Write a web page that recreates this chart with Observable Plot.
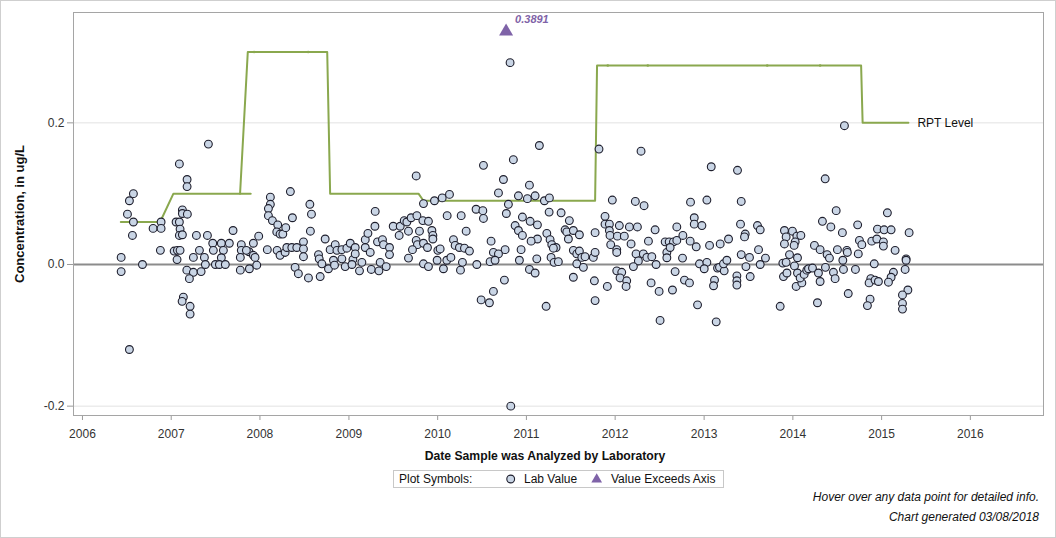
<!DOCTYPE html>
<html><head><meta charset="utf-8">
<script src="https://cdn.jsdelivr.net/npm/d3@7"></script>
<script src="https://cdn.jsdelivr.net/npm/@observablehq/plot@0.6"></script>
<style>
body{margin:0;background:#fff;font-family:"Liberation Sans",Arial,sans-serif;}
#chart{width:1056px;height:538px;position:relative;}
</style></head>
<body><div id="chart"></div>
<script>
// ---- Lab values (decimal year, concentration ug/L) ----
const labYears = [
2006.436,2006.436,2006.529,2006.507,2006.574,2006.563,2006.676,2006.796,2006.886,2006.886,2006.878,2006.574,2006.529,
2007.092,2007.179,2007.179,2007.126,2007.126,2007.182,2007.055,2007.092,2007.100,2007.092,2007.126,2007.033,2007.070,2007.100,2007.066,
2007.176,2007.250,2007.205,2007.337,2007.137,2007.123,2007.213,2007.213,2007.284,2007.408,2007.468,2007.475,2007.565,2007.655,2007.588,
2007.565,2007.250,2007.318,2007.374,2007.385,2007.498,2007.543,2007.610,2007.697,2007.790,2007.790,2007.779,2007.779,2007.881,2007.964,
2007.877,2007.926,2007.986,2007.926,2007.945,2007.847,2007.419,
2008.117,2008.117,2008.095,2008.095,2008.140,2008.200,2008.189,2008.226,2008.257,2008.290,2008.342,2008.365,2008.083,2008.193,2008.226,
2008.283,2008.302,2008.358,2008.414,2008.395,2008.432,
2008.561,2008.579,2008.567,2008.489,2008.489,2008.489,2008.545,2008.677,2008.733,2008.658,2008.666,2008.696,2008.770,2008.789,2008.846,
2008.865,2008.826,2008.838,2008.921,2008.921,2008.958,2008.977,2009.015,2009.071,2009.045,2009.071,2009.034,2009.119,2009.146,2009.184,
2009.184,2009.214,2009.296,2009.293,2009.322,2009.378,2009.390,2009.240,2009.252,2009.338,2009.352,2009.420,2009.457,2009.457,2009.499,
2009.566,2009.578,2009.623,2009.653,2009.701,2009.671,2009.766,2009.833,2009.896,2009.795,2009.758,2009.772,2009.840,2009.716,2009.671,
2009.885,2009.935,2009.946,2009.946,2009.840,2009.896,2009.994,2010.002,2010.028,2010.065,2010.103,2010.149,2009.758,2009.840,2009.964,
2010.051,2010.133,2010.107,2010.265,2010.321,2010.178,2010.197,2010.245,2010.302,2010.358,2010.279,2010.257,2010.441,2010.433,2010.824,
2010.816,
2010.516,2011.146,2010.853,2010.741,2010.685,2010.910,2011.011,2011.034,2011.098,2011.203,2011.259,2010.797,2010.774,2010.509,2010.516,
2010.955,2011.042,2011.124,2010.873,2010.910,2010.955,2011.256,2011.391,2011.484,2011.436,2011.455,2011.529,2011.597,2011.473,2011.230,
2011.267,2011.124,2011.053,2011.286,2011.334,2011.304,2010.602,2010.760,2010.940,2010.628,2010.685,2010.591,2010.647,2010.921,2011.117,
2011.278,2011.312,2011.360,2011.034,2011.098,2010.752,2010.628,2010.583,2010.490,2011.222,2011.529,2011.568,2011.597,2011.624,2011.661,
2011.568,2011.642,2011.529,2011.774,2011.754,2011.774,2011.766,2011.774,2011.818,2011.968,2011.886,2011.886,2011.935,2011.935,2011.942,
2012.047,2012.025,2012.103,2011.950,2012.018,2012.018,2011.912,2012.018,2012.074,2012.055,2012.130,2012.123,2012.160,2012.250,2012.179,
2012.227,2012.325,2012.291,2012.235,2012.261,2012.205,2012.317,2012.356,2012.412,2012.460,2012.374,2012.449,2012.404,2012.494,2012.505,
2012.644,2012.674,2012.562,2012.607,2012.655,2012.581,2012.581,2012.618,2012.693,2012.693,
2013.080,2013.376,2012.847,2013.031,2013.418,2012.889,2012.889,2012.975,2013.410,2013.463,2013.455,2013.601,2013.632,2012.761,2012.843,
2012.911,2013.061,2013.181,2013.275,2012.757,2012.948,2013.031,2013.001,2013.151,2013.173,2013.226,2013.218,2013.256,2012.779,2012.835,
2013.117,2013.106,2013.369,2013.369,2013.369,2013.519,2013.418,2013.471,2013.511,2013.632,2013.613,2013.691,2012.926,2013.136,2013.857,
2013.887,2013.924,2013.894,2013.933,2013.962,2014.018,2014.052,2014.052,2014.037,2014.101,2014.082,2014.127,2014.157,2014.176,2014.221,
2013.905,2013.924,2013.905,2013.995,2014.045,2014.090,2014.026,2014.014,2014.288,2014.307,2014.277,2014.243,2014.307,2014.333,2014.428,
2014.364,2014.488,2014.558,2014.386,2014.412,2014.367,2014.457,2014.476,2014.502,2014.608,2014.614,2014.563,2014.570,2014.705,2014.624,
2014.737,2014.730,2014.750,2014.777,2014.889,2014.946,2014.953,2014.917,2014.878,2014.859,2014.926,2014.964,2014.870,2014.840,2014.581,
2015.065,2015.028,2015.107,2015.310,2015.020,2015.020,2015.152,2015.276,2015.276,2015.265,2015.133,2015.107,2015.077,2015.296,2015.235,
2015.235,2015.235
];
const labValues = [
0.010,-0.010,-0.120,0.071,0.060,0.041,0.000,0.051,0.060,0.051,0.020,0.100,0.090,
0.142,0.120,0.110,0.077,0.072,0.071,0.060,0.060,0.050,0.041,0.042,0.019,0.020,0.020,0.007,
-0.008,-0.011,-0.020,-0.010,-0.046,-0.052,-0.059,-0.070,0.041,0.041,0.030,0.020,0.030,0.030,0.020,
0.0095,0.010,0.020,0.010,0.000,0.000,0.000,0.000,0.048,0.028,0.020,0.010,-0.008,-0.006,-0.001,
0.018,0.030,0.040,0.013,0.010,0.020,0.170,
0.095,0.085,0.079,0.069,0.062,0.056,0.046,0.043,0.043,0.052,0.103,0.066,0.021,0.020,0.013,
0.017,0.024,0.024,0.024,-0.004,-0.013,
0.085,0.071,0.047,0.032,0.022,0.011,-0.019,-0.017,0.036,0.014,0.008,0.001,-0.006,0.021,0.028,
0.020,0.006,-0.001,0.021,0.008,-0.003,0.023,0.030,0.024,0.007,0.015,0.000,-0.009,0.003,0.024,
0.035,0.044,0.075,0.054,0.032,0.035,0.028,0.017,-0.007,-0.009,0.003,-0.003,0.024,0.014,0.054,
0.041,0.054,0.062,0.060,0.066,0.047,0.069,0.062,0.061,0.047,0.034,0.028,0.030,0.021,0.009,
0.024,0.048,0.041,0.036,0.001,-0.003,0.006,0.020,0.022,-0.006,0.006,0.010,0.125,0.086,0.090,
0.094,0.099,0.069,0.069,0.047,0.035,0.027,0.024,0.023,0.019,0.003,-0.008,0.000,0.078,-0.200,
0.285,
0.140,0.168,0.148,0.120,0.101,0.097,0.093,0.112,0.097,0.090,0.094,0.085,0.072,0.076,0.065,
0.067,0.061,0.056,0.055,0.048,0.041,0.074,0.073,0.062,0.049,0.046,0.048,0.042,0.036,0.044,
0.035,0.036,0.033,0.028,0.024,0.023,0.033,0.021,0.021,0.017,0.015,0.004,0.006,0.006,0.008,
0.010,0.003,0.004,-0.007,-0.012,-0.022,-0.038,-0.054,-0.050,-0.059,0.020,0.015,0.019,0.010,0.011,
0.001,-0.004,-0.018,0.045,0.010,0.017,-0.023,-0.051,0.163,0.091,0.068,0.057,0.057,0.048,0.041,
0.055,0.040,0.040,0.028,0.021,0.017,-0.031,-0.009,-0.011,-0.019,-0.023,-0.031,0.053,0.053,0.029,
0.089,0.083,0.160,0.015,0.005,-0.003,0.015,0.010,0.011,0.000,0.033,0.049,-0.026,-0.038,-0.079,
-0.036,-0.010,0.032,0.032,0.032,0.017,0.0095,0.024,0.053,0.034,
0.138,0.133,0.088,0.091,0.089,0.066,0.057,0.055,0.057,0.043,0.039,0.055,0.049,0.041,0.033,
0.025,0.027,0.029,0.036,0.009,0.001,0.003,-0.006,-0.005,-0.004,-0.009,0.001,0.006,-0.022,-0.026,
-0.022,-0.030,-0.016,-0.023,-0.029,-0.017,0.014,-0.003,0.010,0.000,0.021,0.009,-0.057,-0.081,-0.059,
0.002,0.003,-0.017,-0.012,0.014,-0.002,0.0095,-0.012,-0.031,-0.026,-0.019,-0.014,-0.008,-0.006,-0.005,
0.048,0.039,0.029,0.047,0.040,0.041,0.032,0.027,-0.012,-0.024,-0.054,0.027,0.021,0.061,0.053,
0.121,0.076,0.045,0.014,0.009,-0.004,-0.011,-0.020,0.021,0.020,0.017,0.006,-0.007,-0.007,-0.041,
0.015,0.056,0.034,0.028,0.033,0.036,0.050,0.001,-0.020,-0.026,-0.022,-0.024,-0.049,-0.058,0.196,
0.073,0.049,0.049,0.045,0.032,0.026,0.020,0.008,0.006,-0.007,-0.011,-0.018,-0.025,-0.036,-0.043,
-0.055,-0.063
];

// ---- Value exceeding the axis ----
const exceedYears = [2010.771];
const exceedValues = [0.3891];
const axisCapValue = 0.329;   // where exceeding values are shown

// ---- RPT level line (two drawn pieces) ----
const rptSeg = ["a","a","a","a",
  "b","b","b","b","b","b","b","b","b","b","b","b","b","b","b","b","b","b"];
const rptYears = [2006.432,2006.875,2007.025,2007.896,
  2007.776,2007.863,2007.934,2008.542,2008.756,2008.789,2009.784,2009.840,2011.774,2011.796,
  2011.917,2012.367,2013.711,2014.307,2014.769,2014.786,2015.302,2015.302];
const rptValues = [0.06,0.06,0.10,0.10,
  0.10,0.30,0.30,0.30,0.30,0.10,0.10,0.09,0.09,0.281,
  0.281,0.281,0.281,0.281,0.281,0.20,0.20,0.20];
const rptMarkerYears = [2007.934,2008.542,2011.917,2012.367,2013.711,2014.307];
const rptMarkerValues = [0.30,0.30,0.281,0.281,0.281,0.281];

const yTicks = [-0.2, 0.0, 0.2];
const xDomainYears = [2005.899, 2016.822];
const yDomain = [-0.2132, 0.3558];

function toDate(d){
  const y = Math.floor(d);
  const s = Date.UTC(y,0,1), e = Date.UTC(y+1,0,1);
  return new Date(s + (d - y) * (e - s));
}
const lab = labYears.map((y,i)=>({date:toDate(y), value:labValues[i]}));
const exceed = exceedYears.map((y,i)=>({date:toDate(y), value:exceedValues[i], shown:Math.min(exceedValues[i], axisCapValue)}));
const rpt = rptYears.map((y,i)=>({date:toDate(y), value:rptValues[i], seg:rptSeg[i]}));
const rptLast = [rpt[rpt.length-1]];
const rptMarks = rptMarkerYears.map((y,i)=>({date:toDate(y), value:rptMarkerValues[i]}));

const font = '"Liberation Sans", Arial, sans-serif';
const purple = "#7f63a8";
const green = "#8aa84e";
const dotFill = "#c9d5e5";
const dotStroke = "#1e1e2c";

const plot = Plot.plot({
  width:1056, height:538,
  marginLeft:73, marginRight:13, marginTop:12, marginBottom:123,
  style:{fontFamily:font, fontSize:"12px", background:"#fff", color:"#333"},
  x:{type:"utc", domain:xDomainYears.map(toDate)},
  y:{domain:yDomain},
  marks:[
    Plot.gridY({ticks:[-0.2,0.2], stroke:"#e2e2e2", strokeOpacity:1}),
    Plot.ruleY([0], {stroke:"#8c8c8c", strokeWidth:2}),
    Plot.axisX({ticks:d3.utcYear.every(1), tickFormat:"%Y", tickSize:5, tickPadding:9, label:null, stroke:"#9a9a9a", fill:"#333", fontSize:12}),
    Plot.axisY({ticks:yTicks, tickFormat:d=>d.toFixed(1), tickSize:6, tickPadding:3, label:null, stroke:"#9a9a9a", fill:"#333", fontSize:12}),
    Plot.line(rpt, {x:"date", y:"value", z:"seg", stroke:green, strokeWidth:2, curve:"linear"}),
    Plot.dot(rptMarks, {x:"date", y:"value", r:1.3, fill:green}),
    Plot.text(rptLast, {x:"date", y:"value", text:()=>"RPT Level", dx:9, textAnchor:"start", fill:"#111", fontSize:12}),
    Plot.dot(lab, {x:"date", y:"value", r:3.9, fill:dotFill, stroke:dotStroke, strokeWidth:1.1}),
    Plot.dot(exceed, {x:"date", y:"shown", symbol:"triangle", r:5.2, fill:purple}),
    Plot.text(exceed, {x:"date", y:"shown", text:d=>d.value.toFixed(4), dx:9, dy:-12, textAnchor:"start", fill:purple, fontWeight:"bold", fontStyle:"italic", fontSize:11}),
    Plot.frame({stroke:"#a5a5a5"})
  ]
});
document.getElementById("chart").appendChild(plot);

const svg = d3.select(plot);
// outer border
svg.append("rect").attr("x",0.5).attr("y",0.5).attr("width",1055).attr("height",537)
  .attr("fill","none").attr("stroke","#cfcfcf");
// axis titles
svg.append("text").attr("transform","translate(24,214) rotate(-90)").attr("text-anchor","middle")
  .attr("font-weight","bold").attr("font-size",13).attr("fill","#111").attr("font-family",font)
  .text("Concentration, in ug/L");
svg.append("text").attr("x",545).attr("y",460).attr("text-anchor","middle")
  .attr("font-weight","bold").attr("font-size",12.2).attr("fill","#111").attr("font-family",font)
  .text("Date Sample was Analyzed by Laboratory");
// legend
const lg = svg.append("g").attr("font-family",font).attr("font-size",12).attr("fill","#111").attr("text-anchor","start");
lg.append("rect").attr("x",393.5).attr("y",470.5).attr("width",330).attr("height",17)
  .attr("fill","#fff").attr("stroke","#c8c8c8");
lg.append("text").attr("x",399).attr("y",483).text("Plot Symbols:");
lg.append("circle").attr("cx",510.7).attr("cy",479).attr("r",3.9).attr("fill",dotFill).attr("stroke",dotStroke).attr("stroke-width",1.1);
lg.append("text").attr("x",524).attr("y",483).text("Lab Value");
lg.append("path").attr("d",d3.symbol(d3.symbolTriangle, 50)()).attr("transform","translate(596.7,479.5)").attr("fill",purple);
lg.append("text").attr("x",611).attr("y",483).text("Value Exceeds Axis");
// footer
const ft = svg.append("g").attr("font-family",font).attr("font-size",12).attr("font-style","italic")
  .attr("fill","#111").attr("text-anchor","end");
ft.append("text").attr("x",1039).attr("y",501).text("Hover over any data point for detailed info.");
ft.append("text").attr("x",1039).attr("y",521).text("Chart generated 03/08/2018");
</script></body></html>
